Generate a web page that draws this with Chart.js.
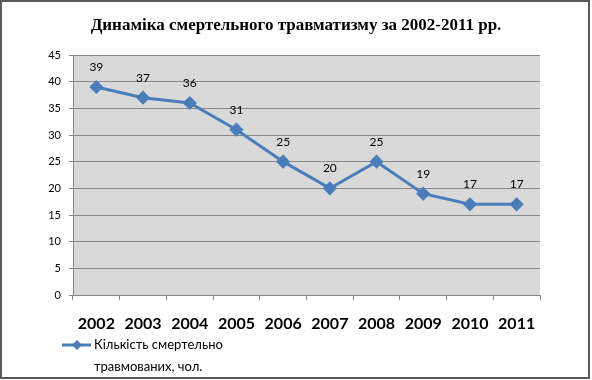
<!DOCTYPE html>
<html><head><meta charset="utf-8">
<script src="https://cdn.jsdelivr.net/npm/chart.js@4"></script>
<style>html,body{margin:0;padding:0;background:#fff}canvas{display:block}</style>
</head><body>
<canvas id="c" width="592" height="380"></canvas>
<script>
const chartTitle = 'Динаміка смертельного травматизму за 2002-2011 рр.';
const years = ['2002','2003','2004','2005','2006','2007','2008','2009','2010','2011'];
const injured = [39, 37, 36, 31, 25, 20, 25, 19, 17, 17];
const seriesLabel = ['Кількість смертельно', 'травмованих, чол.'];
const yMin = 0, yMax = 45, yStep = 5;

const lineColor = '#4a7ebb';

const decor = {
  id: 'decor',
  beforeDraw(chart) {
    const {ctx, chartArea: a} = chart;
    ctx.save();
    ctx.fillStyle = '#ffffff';
    ctx.fillRect(0, 0, chart.width, chart.height);
    ctx.fillStyle = '#d9d9d9';
    ctx.fillRect(a.left, a.top, a.right - a.left, a.bottom - a.top);
    ctx.restore();
  },
  afterDraw(chart) {
    const {ctx} = chart;
    ctx.save();
    // frame
    ctx.strokeStyle = '#5a5a5a';
    ctx.lineWidth = 2;
    ctx.strokeRect(1, 1, 588, 377);
    // title
    ctx.fillStyle = '#000';
    ctx.font = 'bold 17px "Liberation Serif", "Times New Roman", serif';
    ctx.textAlign = 'center';
    ctx.textBaseline = 'middle';
    ctx.fillText(chartTitle, 296, 26);
    // data labels
    const meta = chart.getDatasetMeta(0);
    ctx.font = '12px Lato, sans-serif';
    meta.data.forEach((p, i) => {
      ctx.fillText(String(chart.data.datasets[0].data[i]), p.x, p.y - 20);
    });
    // legend
    const ly = 345;
    ctx.strokeStyle = lineColor;
    ctx.lineWidth = 3;
    ctx.beginPath(); ctx.moveTo(62, ly); ctx.lineTo(91, ly); ctx.stroke();
    ctx.fillStyle = lineColor;
    ctx.beginPath();
    ctx.moveTo(77, ly - 5); ctx.lineTo(82, ly); ctx.lineTo(77, ly + 5); ctx.lineTo(72, ly);
    ctx.closePath(); ctx.fill();
    ctx.fillStyle = '#000';
    ctx.textAlign = 'left';
    ctx.font = '13px Lato, sans-serif';
    const lbl = chart.data.datasets[0].label;
    ctx.fillText(lbl[0], 94, ly);
    ctx.fillText(lbl[1], 94, ly + 22);
    ctx.restore();
  }
};

new Chart(document.getElementById('c'), {
  type: 'line',
  data: {
    labels: years,
    datasets: [{
      label: seriesLabel,
      data: injured,
      borderColor: lineColor,
      backgroundColor: lineColor,
      borderWidth: 3,
      pointStyle: 'rectRot',
      pointRadius: 5,
      pointHoverRadius: 5,
      pointBackgroundColor: lineColor,
      pointBorderColor: lineColor,
      tension: 0
    }]
  },
  options: {
    responsive: false,
    animation: false,
    devicePixelRatio: 1,
    layout: {padding: {top: 55, right: 52, left: 0, bottom: 0}},
    plugins: {legend: {display: false}, tooltip: {enabled: false}, title: {display: false}},
    scales: {
      x: {
        offset: true,
        grid: {offset: true, drawOnChartArea: false, drawTicks: true, tickLength: 5, color: '#868686'},
        border: {color: '#868686'},
        ticks: {color: '#000', font: {family: 'Lato', size: 16, weight: 'bold'}, padding: 14, maxRotation: 0},
        afterFit(s) { s.height = 85; }
      },
      y: {
        min: yMin, max: yMax,
        grid: {color: '#8a8a8a', tickLength: 4},
        border: {color: '#868686'},
        ticks: {stepSize: yStep, color: '#000', font: {family: 'Lato', size: 11}, padding: 8},
        afterFit(s) { s.width = 73; }
      }
    }
  },
  plugins: [decor]
});
</script>
</body></html>
